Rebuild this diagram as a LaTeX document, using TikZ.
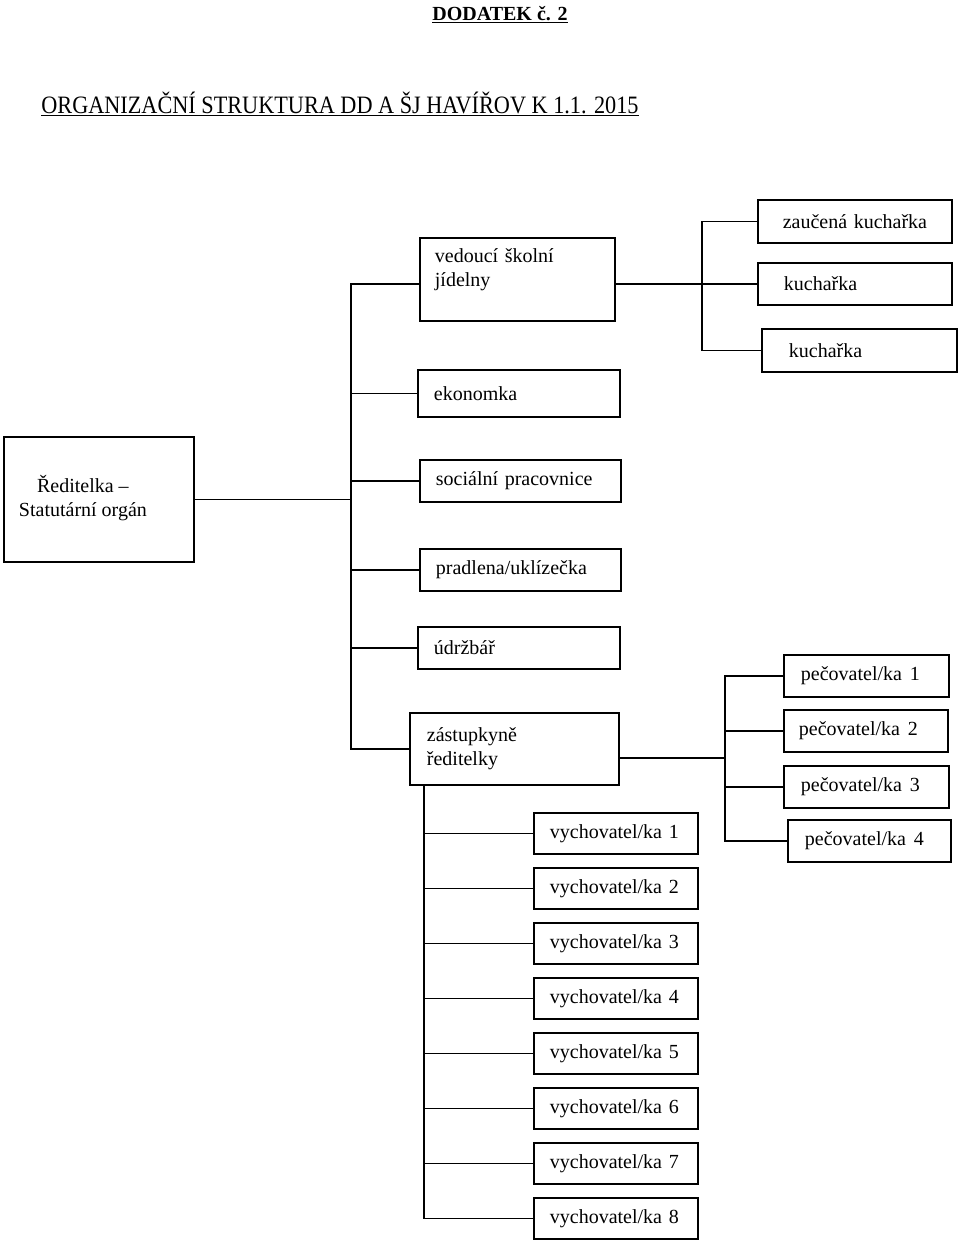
\documentclass[tikz,border=0pt]{standalone}
\usepackage{fontspec}
\setmainfont{Liberation Serif}
\usetikzlibrary{positioning}

\begin{document}
\begin{tikzpicture}[x=0.6pt,y=-0.6pt]
\tikzset{
	box/.style={draw,line width=1.1pt,anchor=north west,inner ysep=0pt,
		minimum height=25.2pt,align=left,font=\fontsize{12}{14.4}\selectfont},
	link/.style={line width=1.1pt,line cap=rect}
}
\useasboundingbox (0,0) rectangle (960,1241);

\node(dod)[anchor=base] at (500,20)
	{\fontsize{12}{14}\selectfont\bfseries\underline{DODATEK č. 2}};
\node(org)[anchor=base] at (340,113)
	{\scalebox{0.89}[1]{\fontsize{15}{18}\selectfont
		\underline{ORGANIZAČNÍ STRUKTURA DD A ŠJ HAVÍŘOV K 1.1. 2015}}};

\node(red)[box,minimum width=114pt,minimum height=75pt,inner xsep=0pt] at (3,436)
	{\begin{tabular}{@{}c@{}}Ředitelka –\\Statutární orgán\end{tabular}\hspace{19.2pt}};

\node(ved)[box,minimum height=49.8pt,text width=99pt,inner xsep=9pt] at (419,237)
	{vedoucí školní\\jídelny\\\mbox{}};
\node(eko)[box,minimum height=28.2pt,text width=102pt,inner xsep=9.6pt] at (417,369) {ekonomka};
\node(soc)[box,text width=101.4pt,inner xsep=9.6pt] at (419,459) {sociální pracovnice};
\node(pra)[box,text width=101.4pt,inner xsep=9.6pt] at (419,548) {pradlena/uklízečka};
\node(udr)[box,text width=102pt,inner xsep=9.6pt] at (417,626) {údržbář};
\node(zas)[box,minimum height=43.2pt,text width=105pt,inner xsep=10.2pt] at (409,712)
	{zástupkyně\\ředitelky};

\node(zk)[box,minimum height=25.8pt,text width=108.4pt,inner xsep=4pt,align=center] at (757,199) {zaučená kuchařka};
\node(k1)[box,text width=85.2pt,inner xsep=15.6pt] at (757,262) {kuchařka};
\node(k2)[box,minimum height=25.8pt,text width=84.6pt,inner xsep=16.2pt] at (761,328) {kuchařka};

\node(pec1)[box,text width=78.6pt,inner xsep=10.2pt] at (783,654) {pečovatel/ka\hspace{0.4em}1};
\node(pec2)[box,text width=80.4pt,inner xsep=9pt] at (783,709) {pečovatel/ka\hspace{0.4em}2};
\node(pec3)[box,text width=78.6pt,inner xsep=10.2pt] at (783,765) {pečovatel/ka\hspace{0.4em}3};
\node(pec4)[box,text width=77.4pt,inner xsep=10.2pt] at (787,819) {pečovatel/ka\hspace{0.4em}4};

\coordinate(trunk) at (351,0);
\coordinate(kitch) at (702,0);
\coordinate(care) at (725,0);
\coordinate(edu) at (424,0);
\coordinate(zasr) at ([yshift=-5.4pt]zas.east);

\draw[link] (red.east) -- (trunk |- red.east);
\draw[link] (trunk |- k1.west) -- (trunk |- zas.west);
\draw[link] (trunk |- k1.west) -- (ved.west |- k1.west);
\foreach \n in {eko,soc,pra,udr,zas}
	\draw[link] (trunk |- \n.west) -- (\n.west);

\draw[link] (ved.east |- k1.west) -- (k1.west);
\draw[link] (kitch |- zk.west) -- (kitch |- k2.west);
\foreach \n in {zk,k2}
	\draw[link] (kitch |- \n.west) -- (\n.west);

\draw[link] (zasr) -- (care |- zasr);
\draw[link] (care |- pec1.west) -- (care |- pec4.west);
\foreach \n in {pec1,pec2,pec3,pec4}
	\draw[link] (care |- \n.west) -- (\n.west);

\foreach \i in {1,...,8}{
	\node(vyc\i)[box,minimum height=24.6pt,text width=79.2pt,inner xsep=9.6pt]
		at (533,{812+55*(\i-1)}) {vychovatel/ka \i};
	\draw[link] (edu |- vyc\i.west) -- (vyc\i.west);
}
\draw[link] (edu |- zas.south) -- (edu |- vyc8.west);
\end{tikzpicture}
\end{document}
